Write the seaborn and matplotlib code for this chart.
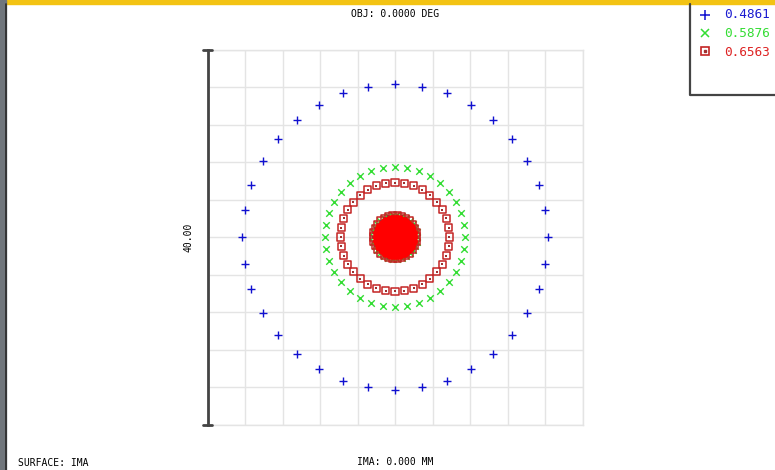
import numpy as np
import pandas as pd
import matplotlib
matplotlib.use("Agg")
import matplotlib.pyplot as plt
import seaborn as sns
from matplotlib.patches import Rectangle

# Spot diagram data (microns), hexapolar pupil sampling
wavelengths = ['0.4861', '0.5876', '0.6563']
ring_counts = [6, 12, 18, 24, 30, 36]
blue_radii = [0.5, 0.9, 1.3, 1.7, 2.0, 16.3]
green_radii = [0.5, 0.9, 1.4, 1.9, 2.35, 7.5]
red_radii = [0.4, 0.9, 1.4, 1.85, 2.3, 5.8]
scale_label = '40.00'
grid_ticks = [-20, -16, -12, -8, -4, 0, 4, 8, 12, 16, 20]


def rings(wl, radii):
    rows = []
    for i, (n, r) in enumerate(zip(ring_counts, radii)):
        ang = np.deg2rad(np.arange(n) * 360.0 / n)
        for a in ang:
            rows.append({'wl': wl, 'ring': i, 'x': r * np.cos(a), 'y': r * np.sin(a)})
    return rows


df = pd.DataFrame(rings(wavelengths[0], blue_radii) +
                  rings(wavelengths[1], green_radii) +
                  rings(wavelengths[2], red_radii))

sns.set_theme(style="white")
plt.rcParams['font.family'] = ['DejaVu Sans Mono', 'DejaVu Sans']

W, H = 775, 470
fig = plt.figure(figsize=(W / 100, H / 100), dpi=100)

# main spot axes: 375 px square centred at (395, 237)
ax = fig.add_axes([207.5 / W, 45.5 / H, 375 / W, 375 / H])
ax.set_xlim(-20, 20)
ax.set_ylim(-20, 20)
ax.set_xticks(grid_ticks)
ax.set_yticks(grid_ticks)
ax.tick_params(length=0, labelbottom=False, labelleft=False)
ax.grid(True, color='#e4e4e4', lw=1)
for s in ['top', 'right', 'bottom']:
    ax.spines[s].set_color('#e4e4e4')
    ax.spines[s].set_linewidth(1)
ax.spines['left'].set_color('#444444')
ax.spines['left'].set_linewidth(2)

blue = df[df.wl == wavelengths[0]]
green = df[df.wl == wavelengths[1]]
red = df[df.wl == wavelengths[2]]

sns.scatterplot(data=blue, x='x', y='y', marker='+', color='#1010d0', s=30,
                linewidth=1, ax=ax, legend=False, zorder=3)
sns.scatterplot(data=green, x='x', y='y', marker='x', color='#33dd33', s=22,
                linewidth=1, ax=ax, legend=False, zorder=4)
red_in = red[red.ring <= 3]
red_out = red[red.ring >= 4]
sns.scatterplot(data=red_out, x='x', y='y', marker='s', s=26, facecolor='none',
                edgecolor='#c42424', linewidth=1.1, ax=ax, legend=False, zorder=5)
sns.scatterplot(data=red_out, x='x', y='y', marker='s', s=2.5, color='#a03030',
                linewidth=0, ax=ax, legend=False, zorder=5)
sns.scatterplot(data=red_in, x='x', y='y', marker='o', s=60, color='#ff0000',
                linewidth=0, ax=ax, legend=False, zorder=6)
ax.set_xlabel('')
ax.set_ylabel('')

# overlay for frame decorations in pixel coordinates
ov = fig.add_axes([0, 0, 1, 1], facecolor='none')
ov.set_xlim(0, W)
ov.set_ylim(H, 0)
ov.axis('off')
ov.add_patch(Rectangle((0, 0), W, 3.5, color='#f3c313', zorder=1))
ov.add_patch(Rectangle((0, 0), 5.5, H, color='#70767c', zorder=1))
ov.plot([6, 6], [3.5, H], color='#2a2a2a', lw=1.2)
ov.plot([203, 212], [49.5, 49.5], color='#444444', lw=2)
ov.plot([203, 212], [424.5, 424.5], color='#444444', lw=2)
ov.plot([689.5, 689.5, W], [3.5, 94.5, 94.5], color='#444444', lw=1.6)

# legend
ov.plot([705], [15], marker='+', ms=7, mew=1.1, color='#1010d0')
ov.plot([705], [33], marker='x', ms=6, mew=1.1, color='#33dd33')
ov.plot([705], [51], marker='s', ms=6, mfc='none', mec='#c42424', mew=1.2)
ov.plot([705], [51], marker='s', ms=1.5, color='#a03030')
leg_colors = ['#1a1ad0', '#33dd33', '#dd2222']
for i, (wl, c) in enumerate(zip(wavelengths, leg_colors)):
    ov.text(724, 15 + 18.5 * i, wl, color=c, fontsize=9.2, va='center', ha='left')

ov.text(395, 14, 'OBJ: 0.0000 DEG', fontsize=7, ha='center', va='center', color='black')
ov.text(395, 462, 'IMA: 0.000 MM', fontsize=7, ha='center', va='center', color='black')
ov.text(18, 463, 'SURFACE: IMA', fontsize=7, ha='left', va='center', color='black')
ov.text(188, 237, scale_label, fontsize=7, rotation=90, ha='center', va='center', color='black')

fig.savefig('out.png', dpi=100)
